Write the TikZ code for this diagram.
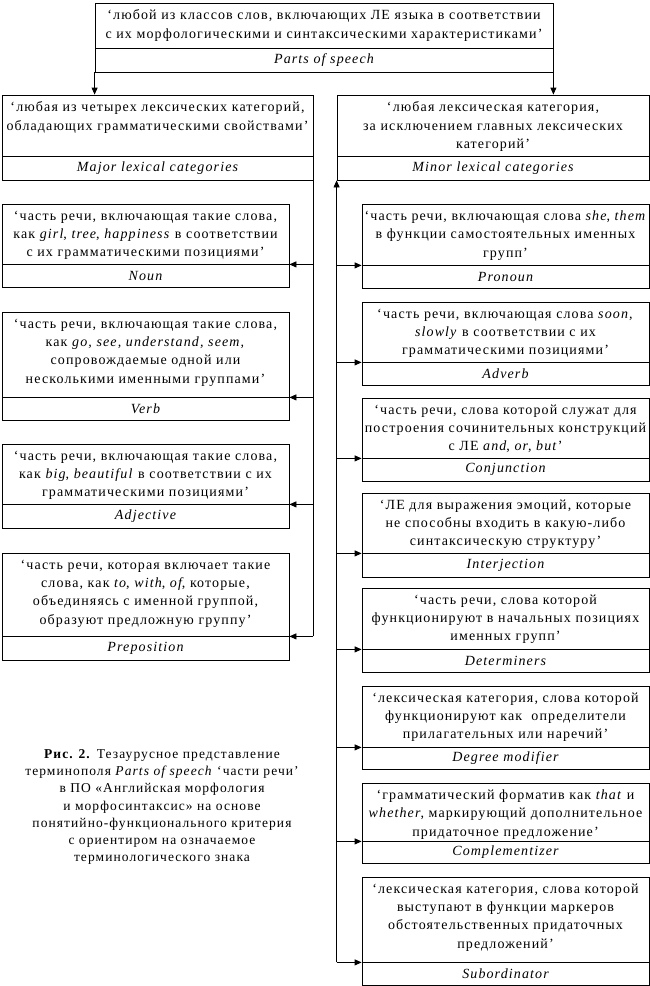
\documentclass[tikz,border=0pt]{standalone}
\usepackage{fontspec}
\setmainfont{Liberation Serif}[LetterSpace=8]
\usetikzlibrary{arrows.meta,fit,calc}
\tikzset{
  part/.style={draw, line width=0.8pt, inner sep=0pt},
  deftext/.style={font=\fontsize{14}{18.3}\selectfont, align=center, inner sep=0pt, anchor=north},
  termtext/.style={font=\fontsize{14}{18}\selectfont\itshape, inner sep=0pt},
  captext/.style={font=\fontsize{13.5}{17.3}\selectfont, align=center, inner sep=0pt, anchor=north},
  conn/.style={line width=0.8pt},
  arr/.style={line width=0.8pt, -{Triangle[length=7pt,width=6pt]}}
}
\newcommand\lexbox[8]{%
  \node[part, fit={(#2,#4) (#3,#5)}] (#1D) {};
  \node[part, fit={(#2,#5) (#3,#6)}] (#1T) {};
  \node[deftext] (#1d) at ($(#1D.north)+(0,7)$) {#7};
  \node[termtext] (#1t) at (#1T.center) {#8};
}
\begin{document}
\begin{tikzpicture}[x=1pt,y=-1pt]
\useasboundingbox (0,0) rectangle (650,986);

\lexbox{top}{95}{553}{3}{48}{72}{‘любой из классов слов, включающих ЛЕ языка в соответствии\\ с их морфологическими и синтаксическими характеристиками’}{Parts of speech}
\lexbox{major}{2}{313}{95}{156}{180}{‘любая из четырех лексических категорий,\\ обладающих грамматическими свойствами’}{Major lexical categories}
\lexbox{minor}{337}{649}{95}{156}{180}{‘любая лексическая категория,\\ за исключением главных лексических\\ категорий’}{Minor lexical categories}

\lexbox{noun}{2}{289}{204}{264}{287}{‘часть речи, включающая такие слова,\\ как \textit{girl}, \textit{tree}, \textit{happiness} в соответствии\\ с их грамматическими позициями’}{Noun}
\lexbox{verb}{2}{289}{312}{397}{420}{‘часть речи, включающая такие слова,\\ как \textit{go, see, understand, seem,}\\ сопровождаемые одной или\\ несколькими именными группами’}{Verb}
\lexbox{adj}{2}{289}{444}{504}{528}{‘часть речи, включающая такие слова,\\ как \textit{big}, \textit{beautiful} в соответствии с их\\ грамматическими позициями’}{Adjective}
\lexbox{prep}{2}{289}{553}{636}{660}{‘часть речи, которая включает такие\\ слова, как \textit{to}, \textit{with}, \textit{of}, которые,\\ объединяясь с именной группой,\\ образуют предложную группу’}{Preposition}

\lexbox{pron}{362}{649}{204}{265}{288}{‘часть речи, включающая слова \textit{she}, \textit{them}\\ в функции самостоятельных именных\\ групп’}{Pronoun}
\lexbox{adv}{362}{649}{302}{362}{385}{‘часть речи, включающая слова \textit{soon,}\\ \textit{slowly} в соответствии с их\\ грамматическими позициями’}{Adverb}
\lexbox{conj}{362}{649}{398}{458}{481}{‘часть речи, слова которой служат для\\ построения сочинительных конструкций\\ с ЛЕ \textit{and}, \textit{or}, \textit{but}’}{Conjunction}
\lexbox{interj}{362}{649}{493}{553}{577}{‘ЛЕ для выражения эмоций, которые\\ не способны входить в какую-либо\\ синтаксическую структуру’}{Interjection}
\lexbox{det}{362}{649}{588}{649}{672}{‘часть речи, слова которой\\ функционируют в начальных позициях\\ именных групп’}{Determiners}
\lexbox{deg}{362}{649}{686}{747}{769}{‘лексическая категория, слова которой\\ функционируют как~ определители\\ прилагательных или наречий’}{Degree modifier}
\lexbox{comp}{362}{649}{783}{841}{863}{‘грамматический форматив как \textit{that} и\\ \textit{whether}, маркирующий дополнительное\\ придаточное предложение’}{Complementizer}
\lexbox{sub}{362}{649}{877}{962}{985}{‘лексическая категория, слова которой\\ выступают в функции маркеров\\ обстоятельственных придаточных\\ предложений’}{Subordinator}

% top arrows
\draw[arr] (topT.south west) -- (topT.south west |- majorD.north);
\draw[arr] (topT.south east) -- (topT.south east |- minorD.north);

% left spine
\draw[conn] (majorT.south east) -- (majorT.south east |- prepD.south);
\foreach \b in {noun,verb,adj,prep}
  \draw[arr] (majorT.south east |- \b D.south) -- (\b D.south east);

% right spine
\draw[arr] (minorT.south west |- subD.south) -- (minorT.south west);
\foreach \b in {pron,adv,conj,interj,det,deg,comp,sub}
  \draw[arr] (minorT.south west |- \b D.south) -- (\b D.south west);

% caption
\node[captext] (cap) at (162,749) {\textbf{Рис. 2.} Тезаурусное представление\\ терминополя \textit{Parts of speech} ‘части речи’\\ в ПО «Английская морфология\\ и морфосинтаксис» на основе\\ понятийно-функционального критерия\\ с ориентиром на означаемое\\ терминологического знака};
\end{tikzpicture}
\end{document}
